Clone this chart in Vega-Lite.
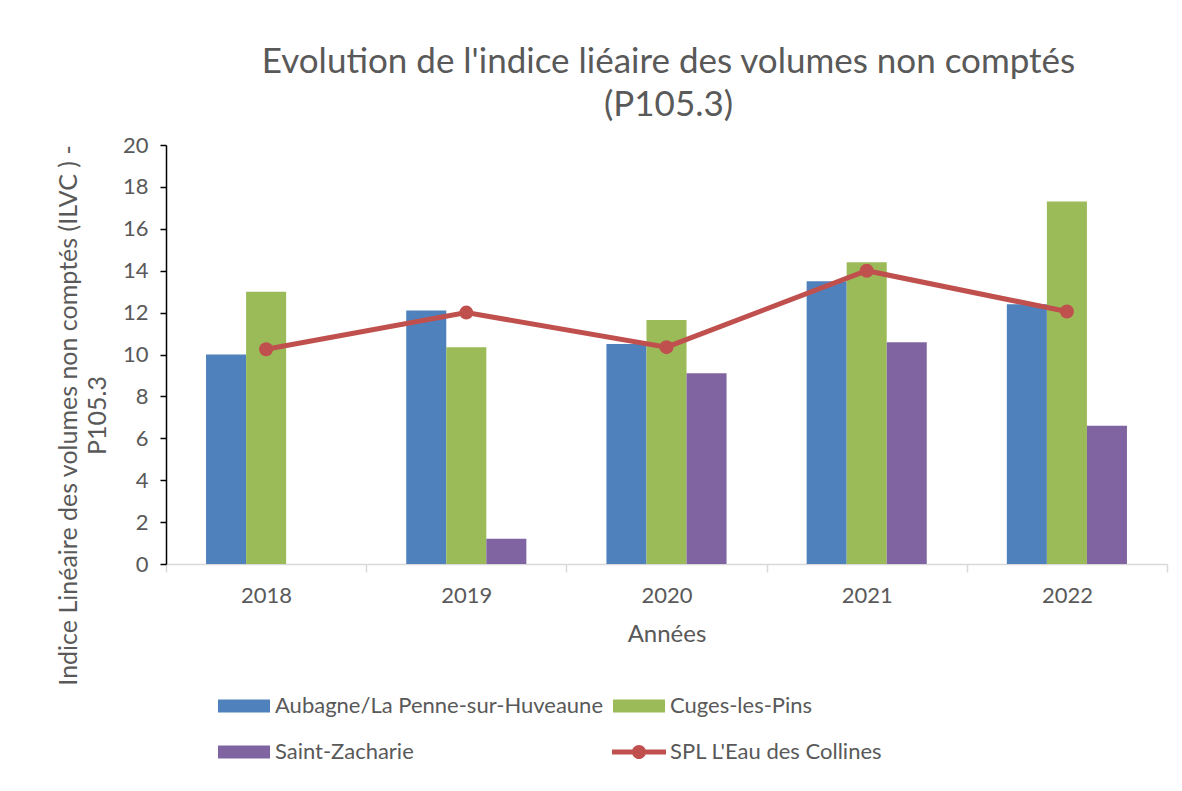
{
  "$schema": "https://vega.github.io/schema/vega-lite/v6.json",
  "width": 1001,
  "height": 419,
  "autosize": {"type": "none"},
  "padding": {"left": 166, "top": 145, "right": 15, "bottom": 227},
  "background": "white",
  "config": {"font": "Lato", "view": {"stroke": null}},
  "title": {
    "text": ["Evolution de l'indice liéaire des volumes non comptés", "(P105.3)"],
    "fontSize": 35,
    "fontWeight": "normal",
    "color": "#595959",
    "anchor": "middle",
    "lineHeight": 43,
    "offset": 11,
    "dx": 2
  },
  "data": {
    "values": [
      {"year": "2018", "series": "Aubagne/La Penne-sur-Huveaune", "value": 10.0},
      {"year": "2018", "series": "Cuges-les-Pins", "value": 13.0},
      {"year": "2018", "series": "SPL L'Eau des Collines", "value": 10.25},
      {"year": "2019", "series": "Aubagne/La Penne-sur-Huveaune", "value": 12.1},
      {"year": "2019", "series": "Cuges-les-Pins", "value": 10.35},
      {"year": "2019", "series": "Saint-Zacharie", "value": 1.2},
      {"year": "2019", "series": "SPL L'Eau des Collines", "value": 12.0},
      {"year": "2020", "series": "Aubagne/La Penne-sur-Huveaune", "value": 10.5},
      {"year": "2020", "series": "Cuges-les-Pins", "value": 11.65},
      {"year": "2020", "series": "Saint-Zacharie", "value": 9.1},
      {"year": "2020", "series": "SPL L'Eau des Collines", "value": 10.35},
      {"year": "2021", "series": "Aubagne/La Penne-sur-Huveaune", "value": 13.5},
      {"year": "2021", "series": "Cuges-les-Pins", "value": 14.4},
      {"year": "2021", "series": "Saint-Zacharie", "value": 10.58},
      {"year": "2021", "series": "SPL L'Eau des Collines", "value": 14.0},
      {"year": "2022", "series": "Aubagne/La Penne-sur-Huveaune", "value": 12.4},
      {"year": "2022", "series": "Cuges-les-Pins", "value": 17.3},
      {"year": "2022", "series": "Saint-Zacharie", "value": 6.6},
      {"year": "2022", "series": "SPL L'Eau des Collines", "value": 12.05}
    ]
  },
  "encoding": {
    "x": {
      "field": "year",
      "type": "nominal",
      "scale": {"paddingInner": 0, "paddingOuter": 0},
      "axis": {
        "title": "Années",
        "titleFontSize": 24,
        "titleFontWeight": "normal",
        "titleColor": "#595959",
        "titlePadding": 16,
        "labelAngle": 0,
        "labelFontSize": 22,
        "labelColor": "#595959",
        "labelPadding": 13,
        "domainColor": "#D9D9D9",
        "domainWidth": 1.5,
        "tickColor": "#D9D9D9",
        "tickWidth": 1.5,
        "tickSize": 8,
        "tickBand": "extent",
        "grid": false
      }
    },
    "y": {
      "field": "value",
      "type": "quantitative",
      "scale": {"domain": [0, 20], "nice": false},
      "axis": {
        "values": [0, 2, 4, 6, 8, 10, 12, 14, 16, 18, 20],
        "title": ["Indice Linéaire des volumes non comptés (ILVC ) -", "P105.3"],
        "titleFontSize": 25,
        "titleFontWeight": "normal",
        "titleColor": "#595959",
        "titleAngle": -90,
        "titleAlign": "center",
        "titleBaseline": "alphabetic",
        "titleLineHeight": 29,
        "titleX": -90,
        "titleY": 270,
        "labelFontSize": 22,
        "labelColor": "#595959",
        "labelPadding": 12,
        "domainColor": "black",
        "domainWidth": 1.5,
        "tickColor": "black",
        "tickWidth": 1.5,
        "tickSize": 6,
        "grid": false,
        "encode": {"ticks": {"update": {"x": {"value": 6}}}}
      }
    },
    "color": {
      "field": "series",
      "type": "nominal",
      "scale": {
        "domain": ["Aubagne/La Penne-sur-Huveaune", "Cuges-les-Pins", "Saint-Zacharie", "SPL L'Eau des Collines"],
        "range": ["#4F81BD", "#9BBB59", "#8064A2", "#C0504D"]
      },
      "legend": {
        "title": null,
        "orient": "none",
        "direction": "horizontal",
        "legendX": 51,
        "legendY": 534,
        "columns": 2,
        "symbolSize": 2916,
        "symbolStrokeWidth": 0,
        "labelFontSize": 22,
        "labelColor": "#595959",
        "labelLimit": 0,
        "labelOffset": 4,
        "rowPadding": 8,
        "columnPadding": 9,
        "encode": {
          "symbols": {
            "update": {
              "shape": {"signal": "(datum.value === 'Aubagne/La Penne-sur-Huveaune' || datum.value === 'Cuges-les-Pins' || datum.value === 'Saint-Zacharie') ? 'M-0.963,-0.24H0.963V0.24H-0.963Z' : 'M-1,-0.09H1V0.09H-1Z M-0.26,0A0.26,0.26 0 1,1 0.26,0A0.26,0.26 0 1,1 -0.26,0Z'"},
              "fill": {"scale": "color", "field": "value"},
              "stroke": {"value": "transparent"},
              "opacity": {"value": 1}
            }
          }
        }
      }
    }
  },
  "layer": [
    {
      "transform": [{"filter": "datum.series !== \"SPL L'Eau des Collines\""}],
      "mark": {"type": "bar"},
      "encoding": {
        "xOffset": {
          "field": "series",
          "type": "nominal",
          "sort": ["Aubagne/La Penne-sur-Huveaune", "Cuges-les-Pins", "Saint-Zacharie"],
          "scale": {"domain": ["Aubagne/La Penne-sur-Huveaune", "Cuges-les-Pins", "Saint-Zacharie"], "paddingInner": 0, "paddingOuter": 1.1}
        }
      }
    },
    {
      "transform": [{"filter": "datum.series === \"SPL L'Eau des Collines\""}],
      "mark": {"type": "line", "strokeWidth": 5},
      "encoding": {}
    },
    {
      "transform": [{"filter": "datum.series === \"SPL L'Eau des Collines\""}],
      "mark": {"type": "point", "filled": true, "size": 196, "opacity": 1},
      "encoding": {}
    }
  ]
}
